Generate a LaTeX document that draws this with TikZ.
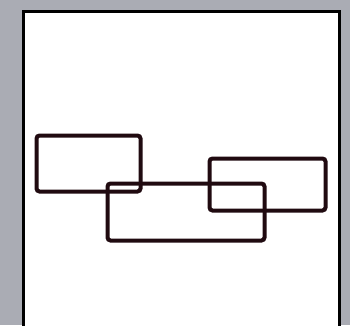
\documentclass[tikz,border=0pt]{standalone}
\usepackage{tikz}
\usepackage{xcolor}
\usetikzlibrary{positioning}
\definecolor{framegray}{RGB}{170,172,180}
\definecolor{inkdark}{RGB}{32,10,16}

\begin{document}
\begin{tikzpicture}[x=1pt, y=-1pt,
  box/.style={draw=inkdark, line width=4pt, rounded corners=3pt, inner sep=0pt}]
\useasboundingbox (0,0) rectangle (350,325);
\fill[framegray] (0,0) rectangle (350,325);
\begin{scope}
\clip (0,0) rectangle (350,325);
\draw[fill=white, line width=3.4pt, draw=black] (23.5,11.5) rectangle (339.5,332);
\end{scope}
\node[box, minimum width=104pt, minimum height=56pt] (left) at (88.5,163.5) {};
\node[box, minimum width=157pt, minimum height=57pt] (mid) at (186,212) {};
\node[box, minimum width=116pt, minimum height=52pt] (right) at (267.5,184.5) {};
\end{tikzpicture}
\end{document}
